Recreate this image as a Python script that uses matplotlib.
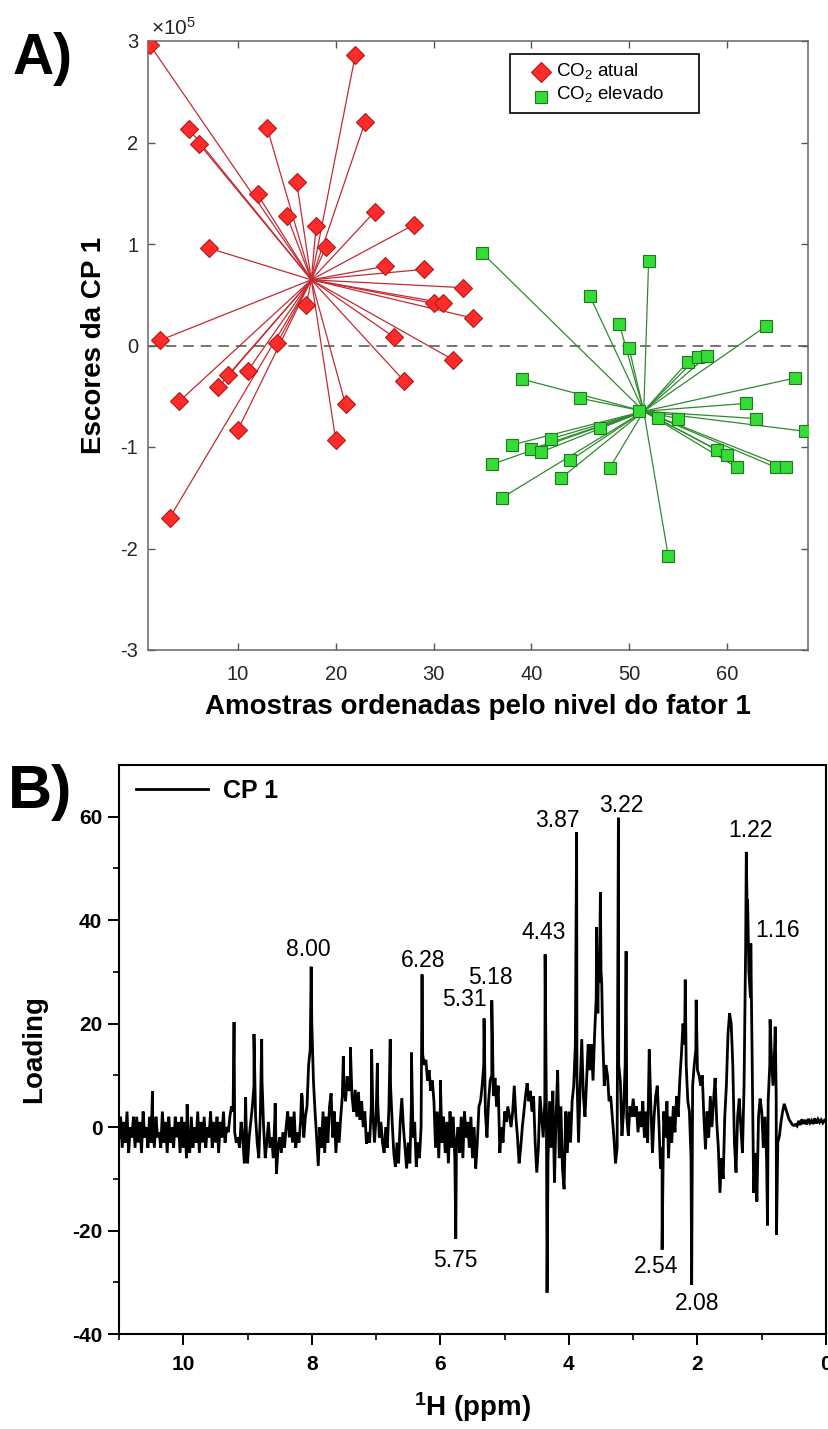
import numpy as np
import matplotlib
matplotlib.use("Agg")
import matplotlib.pyplot as plt
from matplotlib.patches import Rectangle

plt.rcParams['font.family'] = ['Liberation Sans', 'DejaVu Sans']
plt.rcParams['mathtext.fontset'] = 'custom'
plt.rcParams['mathtext.rm'] = 'Liberation Sans'
plt.rcParams['mathtext.it'] = 'Liberation Sans:italic'
plt.rcParams['mathtext.bf'] = 'Liberation Sans:bold'
plt.rcParams['axes.unicode_minus'] = False

# ---------------- Panel A data (scores in units of 1e5) ----------------
sample_atual = list(range(1, 35))
scores_atual = [2.96, 0.05, -1.70, -0.55, 2.13, 1.99, 0.96, -0.41, -0.29, -0.83,
                -0.25, 1.49, 2.14, 0.02, 1.28, 1.61, 0.40, 1.18, 0.97, -0.93,
                -0.58, 2.86, 2.20, 1.32, 0.78, 0.08, -0.35, 1.19, 0.75, 0.415,
                0.42, -0.14, 0.57, 0.27]
sample_elevado = list(range(35, 69))
scores_elevado = [0.91, -1.17, -1.50, -0.98, -0.33, -1.02, -1.05, -0.92, -1.31, -1.13,
                  -0.52, 0.485, -0.81, -1.21, 0.215, -0.025, -0.645, 0.83, -0.71, -2.07,
                  -0.72, -0.16, -0.11, -0.10, -1.03, -1.08, -1.20, -0.57, -0.72, 0.19,
                  -1.20, -1.20, -0.32, -0.845]
group_labels = ["CO$_2$ atual", "CO$_2$ elevado"]
xticks_A = [10, 20, 30, 40, 50, 60]
yticks_A = [-3, -2, -1, 0, 1, 2, 3]

# ---------------- Panel B data (PC1 loading spectrum) ----------------
base_11_10 = [-2, 2, -4, 1, -3, 3, -5, 0, -2, 2, -4, 2, -3, 1, -5, 3, -2, 0, -4, 2,
              -3, 1, -4, 2, -2, -1, -4, 3, -3, 1, -5, 2, -3, 0, -4, 2, -2, 1, -5, 2]
base_10_9 = [-4, 1, -6, -2, -5, 2, -4, 0, -3, 3, -5, 1, -3, 2, -4, 0, -2, 3, -4, 1,
             -3, 2, -5, 1, -2, 3, -3, 0, -1, 2, 4, 3, -1, -3, -2, -4, 1, -2, -7, 2]
base_9_8 = [-7, -2, 1, 4, 8, 2, -3, -6, 3, 9, 0, -6, -3, 1, -4, -2, -6, 2, -9, -4,
            -2, -5, -1, -4, 0, 3, -2, 2, -3, 3, -4, -1, -3, 1, 6, -2, 2, 4, 12, 15]
base_8_7 = [20, 9, 3, -2, -7.5, 0, -4, 3, -5, 2, -3, 4, 6.5, -2, 3, -5, 1, -3, 2, 6,
            8, 5, 9.8, 7, 8, 6, 3, 7.2, 2, 6.8, 1.4, 5, 0, 3, -3.2, -1, -3, 4, 3, -3]
base_7_6 = [2, 5, -2, 1, -3, -5, 0, -4, 4, 8, 1, -5, -7.7, -3, -7, 1, 5.6, 0, -4, -8,
            -3, -7, 5, -2, 1, -7.7, -3, -6, 0, 14, 12, 13, 9, 11, 7, 9, 5, -4, 3, -6]
base_6_5 = [4, -3, 2, -5, 1, -7, 3, -4, 2, -6, -3, 0, -5, 2, -6, 3, -2, 1, -4, 2,
            -6, 0, -8, -3, 4, 5, 8, 12, 3, -2, 5, 9, 10, 6, 9.5, 4, 8, -5, 0, -3]
base_5_4 = [3, 1, 4, 2, 0, 3, 8, 2, -2, -7, -4, 0, 3, 6, 8.5, 5, 7, 3, 6, -3,
            -8.8, -4, 6, 2, -2, 5, 3, -6, 5, -4, 7, -10.7, 2, 11, -6, 4, -8, -12, 3, -5]
base_4_3 = [3, -3, 5, 8, 16, 10, -3, 8, 17, 6, 2, 9, 16, 11, 16, 9, 18, 25, 22, 28,
            30, 18, 8, 12, 10, 5, 6, 2, -2, -7, -4, 12, 9, -1.7, 3, 12, 2, -1.7, 4, 2]
base_3_2 = [5.5, 2, 4, -1, 3, 0, 5, -2, 3, -3, 15, 4, -5, 2, 6, 8, 1, -8, -4, 3,
            -2, 5, -6, 2, -3, 4, -1, 6, 2, 9, 14, 20, 16, 12, 5, 3, -6, 8, 12, 15]
base_2_1 = [11, 10, 8, 10, 2, -4.3, 3, -2, 6, 0, 5, 9.5, 1, -4, -12.7, -6, -10, 2, 8, 18,
            22, 20, 12, -3, -8.8, 2, 5.5, 0, -5, 8, 35, 40, 30, 25, 14, -12.7, -5, -14.4, 2, 5.5]
base_1_0 = [3, -4, 2, -6, 5, 12, 14, 8, 15, 6, -3, -1.7, 1, 3, 4.5, 3.5, 2.5, 1.5, 1, 0.5,
            0.3, 0.5, 0.2, 1.2, 0.4, 1.5, 0.6, 1.4, 0.5, 1.6, 0.8, 1.3, 0.6, 1.7, 0.7, 1.5,
            0.9, 1.4, 0.8, 1.3]
end_value = 1.0

peak_ppm = [10.48, 9.94, 9.21, 9.03, 8.90, 8.78, 8.57, 8.16, 8.01, 7.51, 7.40, 7.07,
            6.98, 6.78, 6.45, 6.285, 6.00, 5.76, 5.32, 5.20, 4.37, 4.34, 3.88, 3.57,
            3.54, 3.51, 3.49, 3.23, 3.11, 2.55, 2.19, 2.09, 2.02, 1.50, 1.24, 1.22,
            1.17, 0.91, 0.87, 0.79, 0.77]
peak_val = [6.9, 4.4, 20.3, 5.8, 18, 17, 4.6, 6.5, 31, 13.7, 15.4, 15,
            12.4, 17, 14.4, 29.5, 9.1, -21.6, 21, 24.5, 33.4, -32, 57, 38.6,
            32, 45.4, 28, 59.8, 34, -23.7, 28.5, -30.5, 24.6, 22, 53.2, 44,
            35.5, -19, 20.8, 19.4, -20.8]

annot_text = ["8.00", "6.28", "5.31", "5.18", "4.43", "3.87", "3.22", "1.22", "1.16",
              "5.75", "2.54", "2.08"]
annot_x = [8.06, 6.27, 5.63, 5.22, 4.40, 4.18, 3.19, 1.17, 0.75, 5.77, 2.64, 2.00]
annot_y = [34.4, 32.3, 24.7, 28.9, 37.6, 59.2, 62.2, 57.4, 38.1, -25.8, -27.0, -34.1]

xticks_B = [10, 8, 6, 4, 2, 0]
yticks_B = [-40, -20, 0, 20, 40, 60]

# ---------------- Figure ----------------
W, H = 829, 1429
fig = plt.figure(figsize=(W / 100, H / 100), dpi=100)

# ===== Panel A =====
aL, aR, aT, aB = 148, 808, 41, 650
axA = fig.add_axes([aL / W, 1 - aB / H, (aR - aL) / W, (aB - aT) / H])

red_line, red_face, red_edge = '#c42a32', '#ff2b2b', '#b01818'
grn_line, grn_face, grn_edge = '#2f8a2f', '#35dc35', '#1b7a1b'

cxr, cyr = np.mean(sample_atual), np.mean(scores_atual)
cxg, cyg = np.mean(sample_elevado), np.mean(scores_elevado)
for x, y in zip(sample_atual, scores_atual):
    axA.plot([cxr, x], [cyr, y], color=red_line, lw=0.9, zorder=2)
for x, y in zip(sample_elevado, scores_elevado):
    axA.plot([cxg, x], [cyg, y], color=grn_line, lw=0.9, zorder=2)
axA.plot(sample_atual, scores_atual, linestyle='none', marker='D', ms=9.5,
         mfc=red_face, mec=red_edge, mew=0.8, zorder=4)
axA.plot(sample_elevado, scores_elevado, linestyle='none', marker='s', ms=8,
         mfc=grn_face, mec=grn_edge, mew=0.8, zorder=4)
axA.axhline(0, color='#505050', lw=1.1, ls=(0, (7, 4.5)), zorder=1)

axA.set_xlim(0.8, 68.3)
axA.set_ylim(-3, 3)
axA.set_xticks(xticks_A)
axA.set_yticks(yticks_A)
axA.set_yticklabels([str(v) for v in yticks_A])
axA.tick_params(direction='in', length=5, width=1.0, top=True, right=True,
                labelsize=14.5, colors='#555555', labelcolor='#262626')
axA.tick_params(axis='x', pad=11)
axA.tick_params(axis='y', pad=7)
for s in axA.spines.values():
    s.set_color('#666666')
    s.set_linewidth(1.1)
axA.text(0.004, 1.004, r'$\times10^{5}$', transform=axA.transAxes,
         fontsize=15, color='#262626', ha='left', va='bottom')
axA.set_xlabel('Amostras ordenadas pelo nivel do fator 1', fontsize=20,
               fontweight='bold', labelpad=7)
axA.set_ylabel('Escores da CP 1', fontsize=20, fontweight='bold', labelpad=10)


def axfA(px, py):
    return (px - aL) / (aR - aL), (aB - py) / (aB - aT)


# legend (MATLAB-style box)
x0, y0 = axfA(510, 113)
x1, y1 = axfA(699, 54)
axA.add_patch(Rectangle((x0, y0), x1 - x0, y1 - y0, transform=axA.transAxes,
                        facecolor='white', edgecolor='black', lw=1.2, zorder=5))
mx, my1 = axfA(541, 72)
_, my2 = axfA(541, 97)
axA.plot([mx], [my1], transform=axA.transAxes, marker='D', ms=10, mfc=red_face,
         mec=red_edge, mew=0.8, zorder=6, clip_on=False)
axA.plot([mx], [my2], transform=axA.transAxes, marker='s', ms=8, mfc=grn_face,
         mec=grn_edge, mew=0.8, zorder=6, clip_on=False)
tx, ty1 = axfA(556, 71)
_, ty2 = axfA(556, 94)
axA.text(tx, ty1, group_labels[0], transform=axA.transAxes, fontsize=13.5,
         va='center', ha='left', zorder=7)
axA.text(tx, ty2, group_labels[1], transform=axA.transAxes, fontsize=13.5,
         va='center', ha='left', zorder=7)

fig.text(13 / W, 1 - 74 / H, 'A)', fontsize=41, fontweight='bold',
         ha='left', va='baseline')

# ===== Panel B =====
bL, bR, bT, bB = 119, 826, 765, 1334
axB = fig.add_axes([bL / W, 1 - bB / H, (bR - bL) / W, (bB - bT) / H])

segments = [(11.0, 10.0, base_11_10), (10.0, 9.0, base_10_9), (9.0, 8.0, base_9_8),
            (8.0, 7.0, base_8_7), (7.0, 6.0, base_7_6), (6.0, 5.0, base_6_5),
            (5.0, 4.0, base_5_4), (4.0, 3.0, base_4_3), (3.0, 2.0, base_3_2),
            (2.0, 1.0, base_2_1), (1.0, 0.0, base_1_0)]
xs, ys = [], []
for start, end, vals in segments:
    xs.append(np.linspace(start, end, len(vals), endpoint=False))
    ys.append(np.asarray(vals, dtype=float))
xs.append(np.array([0.0]))
ys.append(np.array([end_value]))
xs.append(np.asarray(peak_ppm, dtype=float))
ys.append(np.asarray(peak_val, dtype=float))
x_all = np.concatenate(xs)
y_all = np.concatenate(ys)
order = np.argsort(-x_all, kind='stable')
axB.plot(x_all[order], y_all[order], color='black', lw=2.0, label='CP 1',
         solid_joinstyle='miter')

axB.set_xlim(11, 0)
axB.set_ylim(-40, 70)
axB.set_xticks(xticks_B)
axB.set_xticks([11, 9, 7, 5, 3, 1], minor=True)
axB.set_yticks(yticks_B)
axB.set_yticks([-30, -10, 10, 30, 50], minor=True)
axB.tick_params(which='major', direction='out', length=8, width=1.4, labelsize=15)
axB.tick_params(which='minor', direction='out', length=4.5, width=1.2)
axB.tick_params(axis='x', pad=7)
axB.tick_params(axis='y', pad=4)
for lab in axB.get_xticklabels() + axB.get_yticklabels():
    lab.set_fontweight('bold')
for s in axB.spines.values():
    s.set_linewidth(1.5)

for t, x, y in zip(annot_text, annot_x, annot_y):
    axB.text(x, y, t, fontsize=16.5, ha='center', va='center')

leg = axB.legend(loc='upper left', bbox_to_anchor=(0.024, 0.975), frameon=False,
                 handlelength=2.9, handletextpad=0.6, borderaxespad=0, borderpad=0,
                 prop={'weight': 'bold', 'size': 18})

axB.set_xlabel(r'$^{\mathbf{1}}$H (ppm)', fontsize=20, fontweight='bold', labelpad=12)
axB.set_ylabel('Loading', fontsize=20, fontweight='bold', labelpad=18)

fig.text(8 / W, 1 - 808 / H, 'B)', fontsize=44, fontweight='bold',
         ha='left', va='baseline')

fig.savefig('out.png', dpi=100)
